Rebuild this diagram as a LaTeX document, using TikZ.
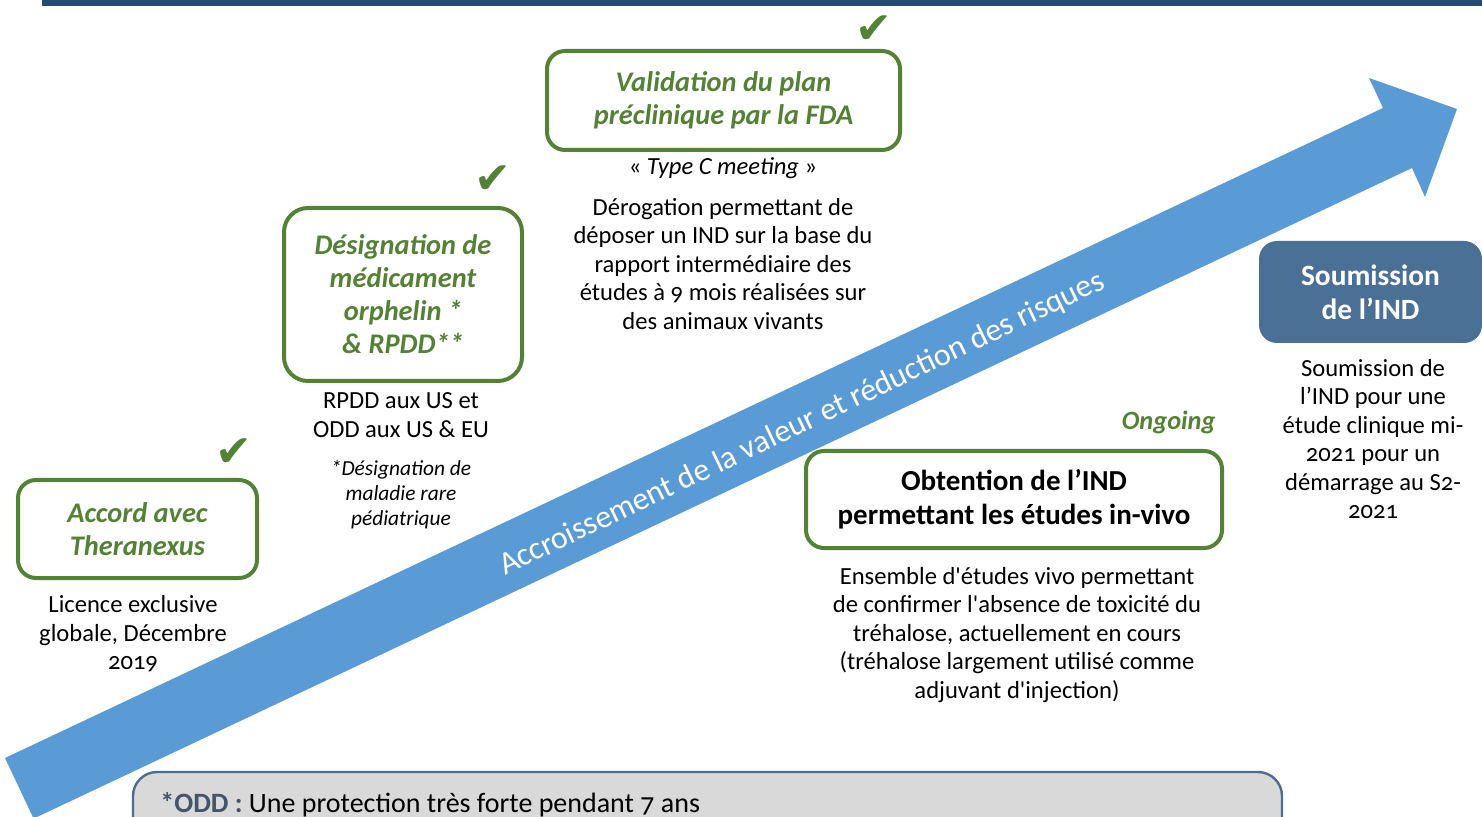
\documentclass[tikz,border=0pt]{standalone}
\usepackage{fontspec}
\setmainfont{Carlito}[Numbers=OldStyle]
\newfontfamily\checkfont{DejaVu Sans}
\usetikzlibrary{positioning}
\definecolor{okgreen}{RGB}{84,130,53}
\definecolor{arrowblue}{RGB}{91,155,213}
\definecolor{steelbox}{RGB}{74,112,150}
\definecolor{topbar}{RGB}{36,74,112}
\definecolor{notefill}{RGB}{217,217,217}
\definecolor{noteline}{RGB}{79,109,143}
\definecolor{notetitle}{RGB}{68,84,106}

\begin{document}
\begin{tikzpicture}[x=0.5pt,y=-0.5pt,
  gbox/.style={draw=okgreen,line width=2pt,rounded corners=9pt,fill=white,align=center,
    text=okgreen,font=\fontsize{14.2}{16.5}\selectfont\bfseries\itshape,inner sep=0pt},
  body/.style={align=center,inner sep=0pt,font=\fontsize{12.3}{14.25}\selectfont},
  tick/.style={text=okgreen,inner sep=0pt,font=\checkfont\fontsize{22}{22}\selectfont}]
\clip (0,0) rectangle (1482,817);

%Shape: Rectangle [top bar]
\fill[topbar] (42,-2) rectangle (1482,6);

%Shape: Arrow [value]
\fill[arrowblue] (5,758) -- (1383,108) -- (1369,78) -- (1457,109) -- (1425,197)
  -- (1412,168) -- (33.6,818.6) -- cycle;
% Text Node
\node[inner sep=0pt,text=white,rotate=25.6,font=\fontsize{16}{18}\selectfont] (valuetxt) at (802,424)
  {Accroissement de la valeur et réduction des risques};

%Shape: Rounded Rect [accord]
\node[gbox,minimum width=119.5pt,minimum height=49pt] (accordbox) at (137.5,529) {Accord avec\\Theranexus};
\node[tick] (accordtick) at (234,453) {✔};
% Text Node
\node[body] (accordtxt) at (133,634) {Licence exclusive\\globale, Décembre\\2019};

%Shape: Rounded Rect [designation]
\node[gbox,minimum width=119pt,minimum height=86.5pt,rounded corners=12pt] (designbox) at (403,294.5)
  {Désignation de\\médicament\\orphelin *\\\& RPDD**};
\node[tick] (designtick) at (493,180) {✔};
% Text Node
\node[body] (designtxt) at (401,415) {RPDD aux US et\\ODD aux US \& EU};
\node[body,font=\fontsize{10.7}{12.5}\selectfont\itshape] (designnote) at (401,495)
  {*Désignation de\\maladie rare\\pédiatrique};

%Shape: Rounded Rect [validation]
\node[gbox,minimum width=176.5pt,minimum height=49.5pt] (validbox) at (723.5,100.5)
  {Validation du plan\\préclinique par la FDA};
\node[tick] (validtick) at (874,30) {✔};
% Text Node
\node[body] (meetingtxt) at (723,168) {« \textit{Type C meeting} »};
\node[body] (validtxt) at (723,264)
  {Dérogation permettant de\\déposer un IND sur la base du\\rapport intermédiaire des\\études à 9 mois réalisées sur\\des animaux vivants};

%Shape: Rounded Rect [obtention]
\node[gbox,text=black,font=\fontsize{14.5}{16.8}\selectfont\bfseries,minimum width=208pt,minimum height=48.5pt]
  (obtentbox) at (1014,499.5) {Obtention de l’IND\\permettant les études in-vivo};
% Text Node
\node[anchor=east,inner sep=0pt,text=okgreen,font=\fontsize{13.2}{15}\selectfont\bfseries\itshape] (ongoing) at (1216,422) {Ongoing};
\node[body] (obtenttxt) at (1017,635)
  {Ensemble d\textquotesingle études vivo permettant\\de confirmer l\textquotesingle absence de toxicité du\\tréhalose, actuellement en cours\\(tréhalose largement utilisé comme\\adjuvant d\textquotesingle injection)};

%Shape: Rounded Rect [soumission]
\node[fill=steelbox,rounded corners=9pt,minimum width=111.5pt,minimum height=51pt,inner sep=0pt,align=center,
  text=white,font=\fontsize{14.7}{17}\selectfont\bfseries] (soumbox) at (1370.5,292) {Soumission\\de l’IND};
% Text Node
\node[body] (soumtxt) at (1373,439)
  {Soumission de\\l’IND pour une\\étude clinique mi-\\2021 pour un\\démarrage au S2-\\2021};

%Shape: Rounded Rect [note]
\draw[noteline,fill=notefill,line width=1.2pt,rounded corners=12pt] (133,772) rectangle (1282,880);
% Text Node
\node[anchor=west,inner sep=0pt,font=\fontsize{14}{16}\selectfont] (notetxt) at (160,805)
  {\textcolor{notetitle}{\bfseries *ODD :} Une protection très forte pendant 7 ans};
\end{tikzpicture}
\end{document}
